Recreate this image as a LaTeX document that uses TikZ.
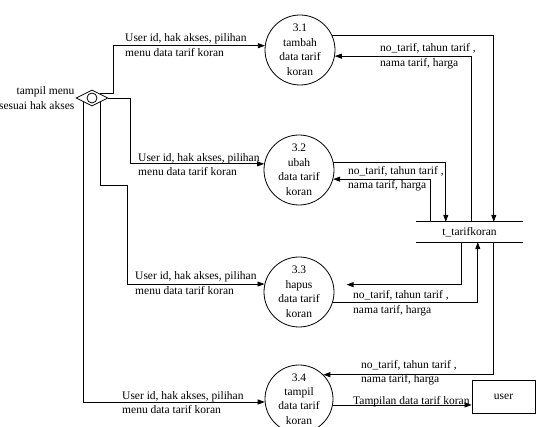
\documentclass[tikz,border=0pt]{standalone}
\usepackage{fontspec}
\setmainfont{Liberation Serif}
\usetikzlibrary{arrows.meta,positioning,shapes.geometric,calc}
\tikzset{
  dfd/.style={x=1pt, y=-1pt, every node/.style={font=\fontsize{11.5}{14.5}\selectfont, inner sep=0pt}},
  proc/.style={draw, circle, minimum size=70pt, align=center, line width=0.8pt},
  pick/.style={draw, diamond, minimum width=32pt, minimum height=16pt, line width=0.8pt},
  lbl/.style={align=left, anchor=west},
  link/.style={draw, line width=0.8pt},
  flow/.style={link, -{Triangle[length=7pt,width=5pt]}}
}

\begin{document}
\begin{tikzpicture}[dfd]
\useasboundingbox (0,0) rectangle (536,427);
\node[proc] (p31) at (300,50) {3.1\\tambah\\data tarif\\koran};
\node[proc] (p32) at (299,170) {3.2\\ubah\\data tarif\\koran};
\node[proc] (p33) at (299,292) {3.3\\hapus\\data tarif\\koran};
\node[proc, minimum size=68pt] (p34) at (299,399) {3.4\\tampil\\data tarif\\koran};
\node[pick] (dmd) at (92,98) {};
\node[draw, circle, minimum size=10pt, line width=0.8pt] (dsel) at (dmd.center) {};
\node[anchor=east, align=right] (menu) at ([xshift=-1pt]dmd.west) {tampil menu\\sesuai hak akses};
\node[minimum width=107pt, minimum height=20pt] (store) at (469.5,232) {t\_tarifkoran};
\draw[link] (store.north west) -- (store.north east) (store.south west) -- (store.south east);
\node[draw, line width=0.8pt, minimum width=63pt, minimum height=33pt] (user) at (503.5,396.5) {user};

\draw[flow] (dmd.north east) -- ++(13,0) |- (p31.173);
\draw[flow] (dmd.east) -- ++(22,0) |- (p32.170);
\draw[flow] (dmd.south east) -- ++(0,83) -- ++(27,0) |- (p33.167);
\draw[flow] (dmd.south west) |- (p34.185);

\draw[flow] (p31.25) -| ($(store.north west)+(78,0)$);
\draw[flow] ($(store.north west)+(56,0)$) |- (p31.-10);
\draw[flow] (p32.13) -| ($(store.north west)+(30,0)$);
\draw[flow] ($(store.north west)+(15,0)$) |- (p32.-15);
\draw[flow, shorten >=13pt] ($(store.south west)+(46,0)$) |- (p33.12);
\draw[flow] (p33.-17) -| ($(store.south west)+(62,0)$);
\draw[flow] ($(store.south west)+(78,0)$) |- (p34.45);
\draw[flow] (p34.-10) -- (p34.-10 -| user.west);

\node[lbl] (u1) at (125,45) {User id, hak akses, pilihan\\menu data tarif koran};
\node[lbl] (u2) at (138,164.5) {User id, hak akses, pilihan\\menu data tarif koran};
\node[lbl] (u3) at (135,283) {User id, hak akses, pilihan\\menu data tarif koran};
\node[lbl] (u4) at (122,402.5) {User id, hak akses, pilihan\\menu data tarif koran};
\node[lbl] (r1) at (380,56) {no\_tarif, tahun tarif ,\\nama tarif, harga};
\node[lbl] (r2) at (348,178.5) {no\_tarif, tahun tarif ,\\nama tarif, harga};
\node[lbl] (r3) at (353,303) {no\_tarif, tahun tarif ,\\nama tarif, harga};
\node[lbl] (r4) at (361,372.5) {no\_tarif, tahun tarif ,\\nama tarif, harga};
\node[anchor=base west] (show) at (353,405) {Tampilan data tarif koran};
\end{tikzpicture}
\end{document}
